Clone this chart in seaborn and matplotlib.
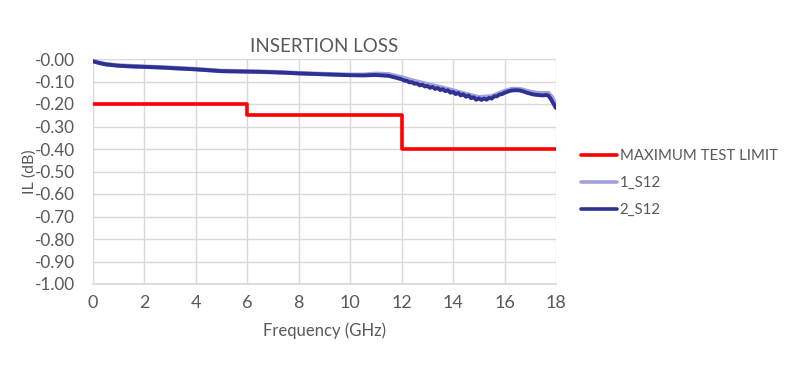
import matplotlib
matplotlib.use("Agg")
import matplotlib.pyplot as plt
import seaborn as sns
import pandas as pd

# ---- data ----
limit_freq = [0, 6, 6, 12, 12, 18]
limit_il = [-0.20, -0.20, -0.25, -0.25, -0.40, -0.40]

s2_freq = [0, 0.25, 0.5, 1, 1.5, 2, 2.5, 3, 3.5, 4, 4.5, 5, 5.5, 6, 6.5, 7, 7.5, 8,
           8.5, 9, 9.5, 10, 10.5, 11, 11.5,
           12.0, 12.1, 12.2, 12.3, 12.4, 12.5, 12.6, 12.7, 12.8, 12.9,
           13.0, 13.1, 13.2, 13.3, 13.4, 13.5, 13.6, 13.7, 13.8, 13.9,
           14.0, 14.1, 14.2, 14.3, 14.4, 14.5, 14.6, 14.7, 14.8, 14.9,
           15.0, 15.1, 15.2, 15.3, 15.4, 15.5, 15.6, 15.7, 15.8, 15.9,
           16.0, 16.1, 16.2, 16.3, 16.4, 16.5, 16.6, 16.7, 16.8, 16.9,
           17.0, 17.1, 17.2, 17.3, 17.4, 17.5, 17.6, 17.7, 17.8, 17.9, 18.0]
s2_il = [-0.010, -0.018, -0.024, -0.030, -0.033, -0.035, -0.037, -0.040, -0.043, -0.046,
         -0.050, -0.054, -0.055, -0.056, -0.057, -0.059, -0.061, -0.064,
         -0.066, -0.068, -0.070, -0.072, -0.073, -0.071, -0.075,
         -0.090, -0.096, -0.097, -0.104, -0.103, -0.110, -0.109, -0.117, -0.114, -0.122,
         -0.120, -0.128, -0.124, -0.133, -0.129, -0.138, -0.134, -0.143, -0.139, -0.150,
         -0.146, -0.156, -0.151, -0.162, -0.157, -0.168, -0.162, -0.174, -0.170, -0.181,
         -0.175, -0.182, -0.176, -0.181, -0.173, -0.176, -0.166, -0.166, -0.158, -0.156,
         -0.150, -0.146, -0.142, -0.140, -0.139, -0.139, -0.140, -0.143, -0.147, -0.151,
         -0.154, -0.157, -0.159, -0.160, -0.161, -0.162, -0.160, -0.162, -0.178, -0.198, -0.218]

s1_freq = [0, 0.5, 1, 2, 3, 4, 5, 6, 7, 8, 9, 10, 10.5, 11, 11.5, 12, 12.5, 13, 13.5,
           14, 14.5, 15, 15.5, 16, 16.3, 16.6, 17, 17.3, 17.7, 17.85, 18]
s1_il = [-0.010, -0.023, -0.029, -0.034, -0.039, -0.045, -0.053, -0.055, -0.058, -0.063,
         -0.067, -0.070, -0.070, -0.066, -0.068, -0.082, -0.098, -0.112, -0.125,
         -0.140, -0.156, -0.170, -0.166, -0.143, -0.133, -0.134, -0.146, -0.152, -0.152,
         -0.170, -0.210]

names = ["MAXIMUM TEST LIMIT", "1_S12", "2_S12"]
colors = ["#ff0000", "#a1a1e0", "#2e3192"]

df = pd.concat([
    pd.DataFrame({"f": limit_freq, "il": limit_il, "series": names[0]}),
    pd.DataFrame({"f": s1_freq, "il": s1_il, "series": names[1]}),
    pd.DataFrame({"f": s2_freq, "il": s2_il, "series": names[2]}),
])

sns.set_theme(style="white")
plt.rcParams["font.family"] = ["Lato", "DejaVu Sans"]
grey = "#595959"

fig = plt.figure(figsize=(7.9, 3.71), dpi=100)
ax = fig.add_axes([93 / 790, 1 - 284 / 371, (556 - 93) / 790, (284 - 59) / 371])

sns.lineplot(data=df, x="f", y="il", hue="series", hue_order=names,
             palette=dict(zip(names, colors)),
             estimator=None, sort=False, linewidth=2.6, ax=ax)
for ln, lw in zip(ax.get_lines()[:3], [2.6, 3.2, 2.8]):
    ln.set_linewidth(lw)
    ln.set_solid_joinstyle("round")

ax.set_xlim(0, 18)
ax.set_ylim(-1.0, 0.0)
ax.set_xticks(range(0, 19, 2))
yt = [round(-0.1 * i, 1) for i in range(11)]
ax.set_yticks(yt)
ax.set_yticklabels([f"{v:.2f}" for v in yt])
ax.grid(True, color="#d9d9d9", linewidth=1)
for s in ["top", "right", "left"]:
    ax.spines[s].set_visible(False)
ax.spines["bottom"].set_color("#d9d9d9")
ax.tick_params(axis="y", colors=grey, labelsize=12.3, length=0, pad=13)
ax.tick_params(axis="x", colors=grey, labelsize=13, length=0, pad=8)
ax.set_xlabel("Frequency (GHz)", color=grey, fontsize=12, labelpad=8)
ax.set_ylabel("IL (dB)", color=grey, fontsize=11.5)
ax.yaxis.set_label_coords((37 - 93) / 463, 0.5)
ax.set_title("INSERTION LOSS", color=grey, fontsize=13.5, pad=5)

h, l = ax.get_legend_handles_labels()
if ax.legend_:
    ax.legend_.remove()
leg = fig.legend(h, l, loc="upper left", bbox_to_anchor=(567 / 790, 1 - 136 / 371),
                 frameon=False, fontsize=10.8, handlelength=2.4, labelspacing=0.85,
                 handletextpad=0.2, labelcolor=grey)

fig.savefig("out.png", dpi=100)
